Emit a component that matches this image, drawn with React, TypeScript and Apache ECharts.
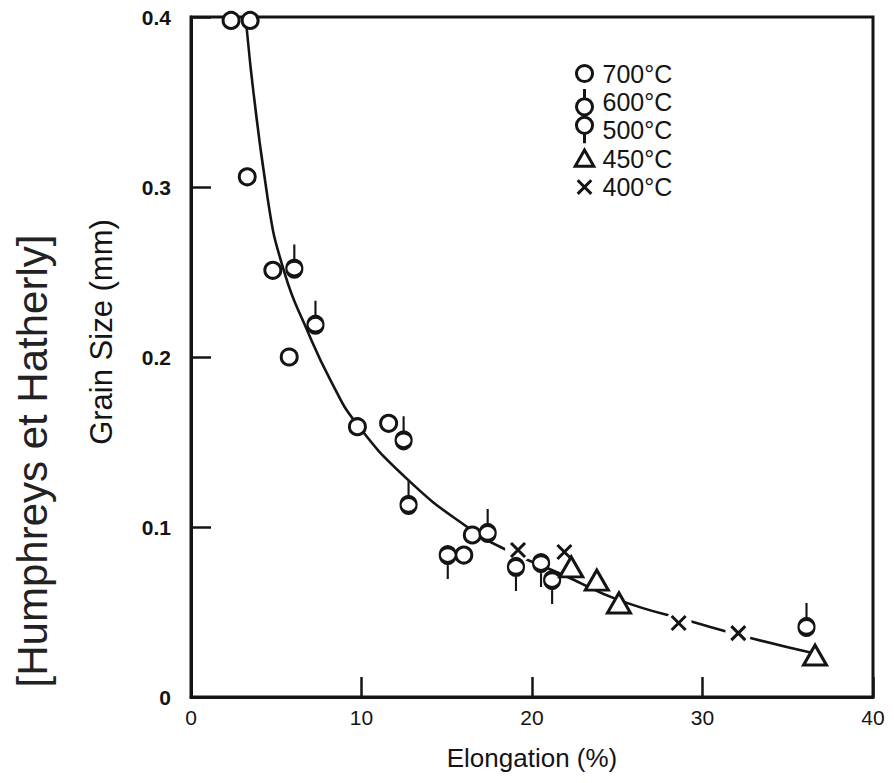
import React, { useEffect, useRef } from "react";
import * as echarts from "echarts";

// ---- data ----
const xTickValues = [0, 10, 20, 30, 40];
const yTickValues = [0, 0.1, 0.2, 0.3, 0.4];

const s700: [number, number][] = [
  [2.35, 0.398], [3.47, 0.398], [3.3, 0.306], [4.8, 0.251], [5.76, 0.2],
  [9.76, 0.159], [11.59, 0.161], [16.0, 0.0835], [16.5, 0.0953],
];
const s600: [number, number][] = [
  [6.06, 0.252], [7.3, 0.219], [12.47, 0.151], [12.76, 0.113], [17.4, 0.0965], [36.1, 0.0412],
];
const s500: [number, number][] = [
  [15.06, 0.0835], [19.06, 0.0765], [20.53, 0.0788], [21.18, 0.0688],
];
const s450: [number, number][] = [
  [22.3, 0.0765], [23.8, 0.0688], [25.1, 0.0553], [36.6, 0.0247],
];
const s400: [number, number][] = [
  [19.18, 0.0865], [21.9, 0.0853], [28.6, 0.0435], [32.1, 0.0376],
];
const fitCurve: [number, number][] = [
  [3.2, 0.4], [4.5, 0.293], [5.5, 0.249], [6.8, 0.216], [8.2, 0.186], [9.7, 0.161],
  [12.7, 0.128], [16.2, 0.1], [18.6, 0.086], [21.9, 0.0715], [25.1, 0.057], [29.5, 0.044],
  [33.1, 0.034], [36.4, 0.026],
];

const seriesNames = ["700°C", "600°C", "500°C", "450°C", "400°C"];

const ink = "#141414";
const font = "'Liberation Sans', Arial, Helvetica, sans-serif";

// circle of radius r centred at (0, cy), drawn with cubic Béziers
const circlePath = (r: number, cy: number) => {
  const k = r * 0.5523;
  return (
    `M0,${cy - r}C${k},${cy - r} ${r},${cy - k} ${r},${cy}` +
    `C${r},${cy + k} ${k},${cy + r} 0,${cy + r}` +
    `C${-k},${cy + r} ${-r},${cy + k} ${-r},${cy}` +
    `C${-r},${cy - k} ${-k},${cy - r} 0,${cy - r}Z`
  );
};
// plot symbols
const stemUp = "path://" + circlePath(8, 0) + "M0,-8L0,-24";
const stemDown = "path://" + circlePath(8, 0) + "M0,8L0,24";
const cross = "path://M-7,-7L7,7M-7,7L7,-7";
// legend icons, all in a square -10.5..10.5 box so they keep their shape
const box = "M-10.5,-10.5M10.5,10.5";
const legendCircle = "path://" + box + circlePath(6.5, 0);
const legendStemUp = "path://" + box + circlePath(6.5, 4) + "M0,-2.5L0,-10.5";
const legendStemDown = "path://" + box + circlePath(6.5, -4) + "M0,2.5L0,10.5";
const legendTriangle = "path://" + box + "M0,-7L7.5,6L-7.5,6Z";
const legendCross = "path://" + box + "M-5.5,-5.5L5.5,5.5M-5.5,5.5L5.5,-5.5";

export default function App() {
  const ref = useRef<HTMLDivElement>(null);
  useEffect(() => {
    const chart = echarts.init(ref.current!, null, { renderer: "svg" });
    const markerStyle = { color: "#fff", borderColor: ink, borderWidth: 3, opacity: 1 };
    const option: any = {
      animation: false,
      backgroundColor: "#fff",
      textStyle: { fontFamily: font },
      grid: {
        left: 191, right: 21, top: 17, bottom: 86,
        show: true, borderColor: ink, borderWidth: 3, backgroundColor: "transparent",
      },
      legend: {
        orient: "vertical",
        left: 565,
        top: 54,
        itemWidth: 26,
        itemHeight: 26,
        itemGap: -0.6,
        selectedMode: false,
        itemStyle: { borderWidth: 3, borderColor: ink, color: "#fff", opacity: 1 },
        textStyle: { fontSize: 25, color: ink, fontFamily: font },
        data: [
          { name: seriesNames[0], icon: legendCircle },
          { name: seriesNames[1], icon: legendStemUp },
          { name: seriesNames[2], icon: legendStemDown },
          { name: seriesNames[3], icon: legendTriangle },
          { name: seriesNames[4], icon: legendCross },
        ],
      },
      xAxis: {
        type: "value",
        min: xTickValues[0],
        max: xTickValues[xTickValues.length - 1],
        interval: 10,
        name: "Elongation (%)",
        nameLocation: "middle",
        nameGap: 48,
        nameTextStyle: { fontSize: 26, color: ink, fontFamily: font },
        axisLine: { show: true, lineStyle: { color: ink, width: 3 } },
        axisTick: { show: true, inside: true, length: 20, lineStyle: { color: ink, width: 2.5 } },
        axisLabel: { fontSize: 21, color: ink, margin: 10, fontFamily: font },
        splitLine: { show: false },
      },
      yAxis: {
        type: "value",
        min: yTickValues[0],
        max: yTickValues[yTickValues.length - 1],
        interval: 0.1,
        axisLine: { show: true, lineStyle: { color: ink, width: 3 } },
        axisTick: { show: true, inside: true, length: 20, lineStyle: { color: ink, width: 2.5 } },
        axisLabel: {
          fontSize: 21, fontWeight: "bold", color: ink, margin: 20, fontFamily: font,
          formatter: (v: number) => (v === 0 ? "0" : v.toFixed(1)),
        },
        splitLine: { show: false },
      },
      graphic: [
        {
          type: "text",
          x: 32,
          y: 461,
          rotation: Math.PI / 2,
          style: {
            text: "[Humphreys et Hatherly]",
            fontSize: 42,
            fontFamily: font,
            fill: "#222",
            align: "center",
            verticalAlign: "middle",
          },
        },
        {
          type: "text",
          x: 101,
          y: 332,
          rotation: Math.PI / 2,
          style: {
            text: "Grain Size (mm)",
            fontSize: 31,
            fontFamily: font,
            fill: ink,
            align: "center",
            verticalAlign: "middle",
          },
        },
      ],
      series: [
        {
          type: "line",
          name: "fit",
          data: fitCurve,
          smooth: 0.5,
          symbol: "none",
          lineStyle: { color: ink, width: 2.6 },
          z: 1,
          silent: true,
        },
        {
          type: "scatter",
          name: "mask",
          data: s400,
          symbol: "circle",
          symbolSize: 26,
          itemStyle: { color: "#fff", borderWidth: 0, opacity: 1 },
          z: 2,
          silent: true,
        },
        {
          type: "scatter", name: seriesNames[0], data: s700, symbol: "circle", symbolSize: 16,
          itemStyle: markerStyle, z: 3,
        },
        {
          type: "scatter", name: seriesNames[1], data: s600, symbol: stemUp, symbolSize: [16, 32],
          symbolOffset: [0, -8], itemStyle: markerStyle, z: 3,
        },
        {
          type: "scatter", name: seriesNames[2], data: s500, symbol: stemDown, symbolSize: [16, 32],
          symbolOffset: [0, 8], itemStyle: markerStyle, z: 3,
        },
        {
          type: "scatter", name: seriesNames[3], data: s450, symbol: "triangle", symbolSize: [23, 20],
          itemStyle: markerStyle, z: 3,
        },
        {
          type: "scatter", name: seriesNames[4], data: s400, symbol: cross, symbolSize: 14,
          itemStyle: { color: ink, borderColor: ink, borderWidth: 3, opacity: 1 }, z: 4,
        },
      ],
    };
    chart.setOption(option);
    return () => chart.dispose();
  }, []);
  return (
    <div
      ref={ref}
      style={{ position: "fixed", left: 0, top: 0, width: 894, height: 783, background: "#fff" }}
    />
  );
}
